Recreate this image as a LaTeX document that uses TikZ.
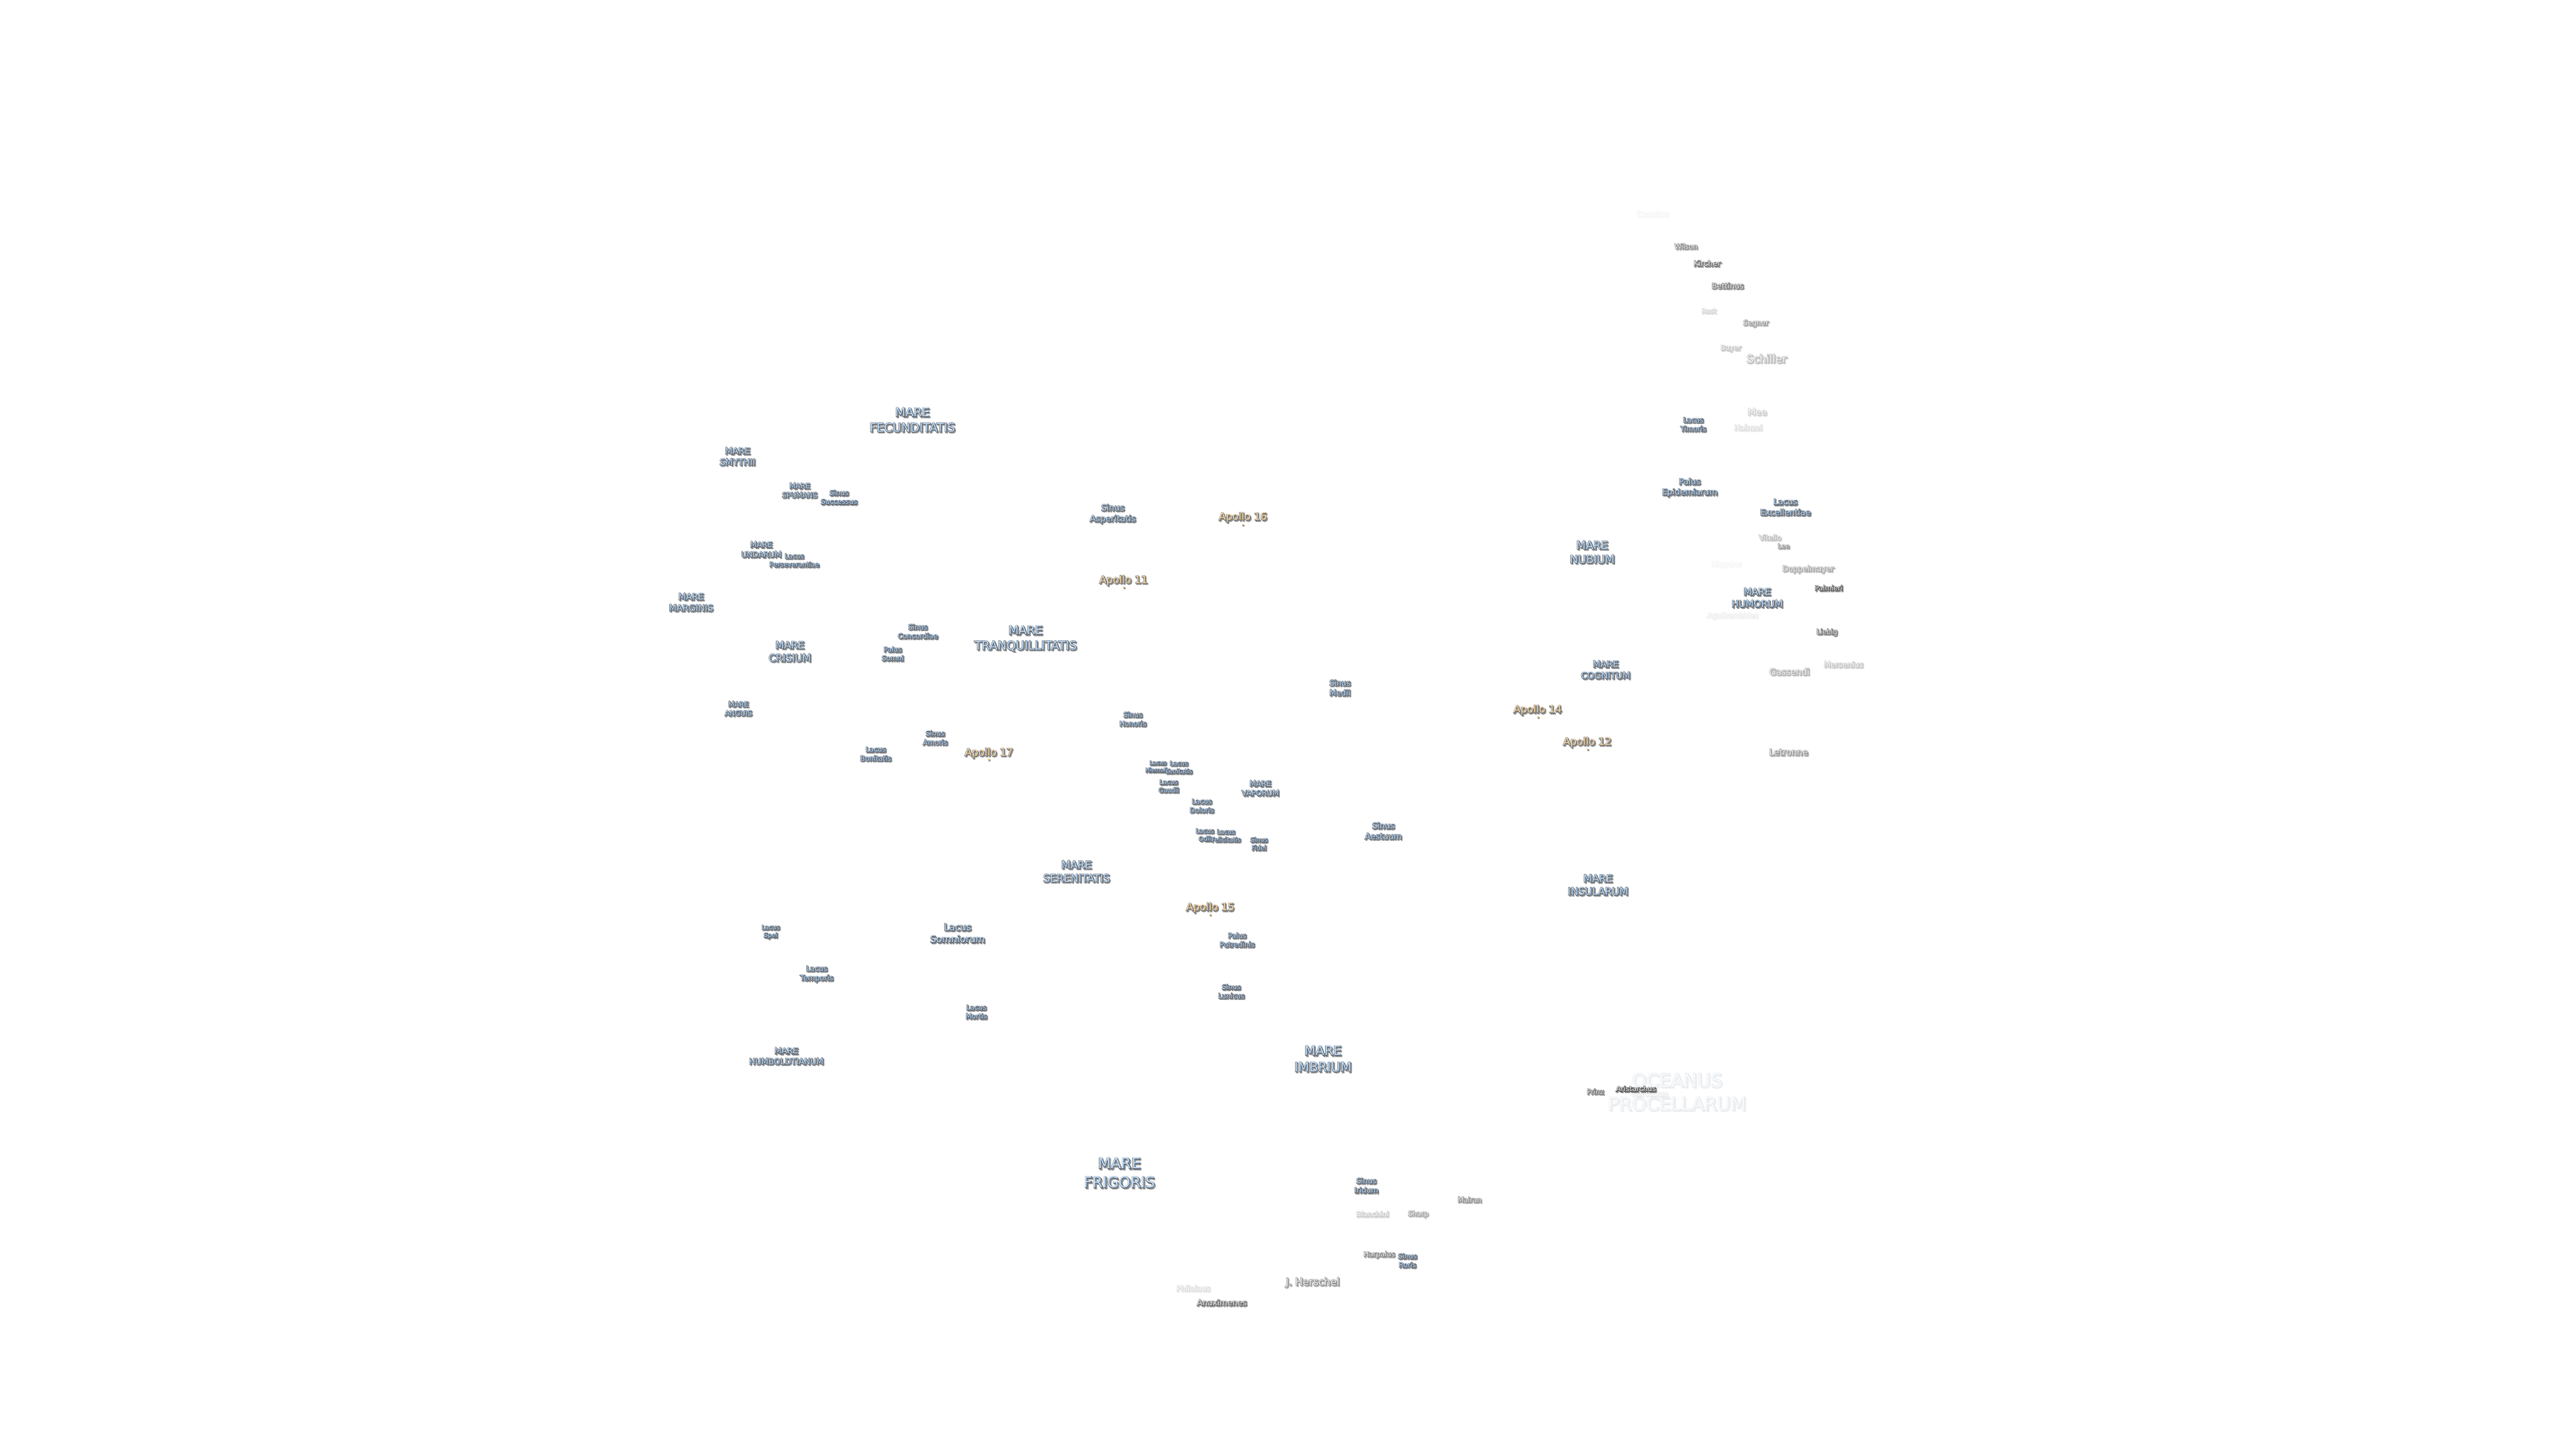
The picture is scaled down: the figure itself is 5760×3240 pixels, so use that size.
\documentclass[tikz,border=0pt]{standalone}
\usepackage{fontspec}
\setmainfont{DejaVu Sans}
\usetikzlibrary{shapes.geometric}
\definecolor{marefill}{HTML}{C4DEF6}
\definecolor{mareline}{HTML}{566272}
\definecolor{craterfill}{HTML}{F2F2F2}
\definecolor{craterline}{HTML}{505050}
\definecolor{apollofill}{HTML}{FBDFB0}
\definecolor{apolloline}{HTML}{76716A}
\definecolor{shadowgrey}{HTML}{8C8C8C}
\definecolor{dotfill}{HTML}{E8B060}
\newcommand\strk[2]{\special{pdf:code 1 Tr #1 w}#2\special{pdf:code 0 Tr}}
\tikzset{lbl/.style={inner sep=0pt,align=center,anchor=center}}
\newcommand\lfont[1]{\fontsize{\fpeval{#1*1.03}}{\fpeval{#1*1.03*1.27}}\selectfont}
% fill colour, line colour, name, x, y, size, opacity, text
\newcommand\lab[8]{%
\begin{scope}[transparency group,opacity=#7]
\node[lbl,text=shadowgrey,xshift=2.4pt,yshift=-2.4pt,font=\lfont{#6}] (#3s) at (#4,#5) {\strk{2.4}{#8}};
\node[lbl,text=#2,font=\lfont{#6}] (#3o) at (#4,#5) {\strk{2}{#8}};
\node[lbl,text=#1,font=\lfont{#6}] (#3) at (#4,#5) {#8};
\end{scope}}
\newcommand\mare[5]{\lab{marefill}{mareline}{#1}{#2}{#3}{#4}{1}{#5}}
\newcommand\crater[6]{\lab{craterfill}{craterline}{#1}{#2}{#3}{#4}{#5}{#6}}
\newcommand\apollo[6]{\node[circle,fill=shadowgrey,inner sep=0pt,minimum size=5pt] (#1ds) at (#5+1.5,#6+1.5) {};
\node[circle,fill=dotfill,inner sep=0pt,minimum size=4.5pt] (#1d) at (#5,#6) {};
\lab{apollofill}{apolloline}{#1}{#2}{#3}{22.3}{1}{#4}}
\begin{document}
\begin{tikzpicture}[x=1pt,y=-1pt]
\useasboundingbox (0,0) rectangle (5760,3240);
\fill[white] (0,0) rectangle (5760,3240);
\lab{marefill}{mareline}{oceanus}{3750}{2442}{40}{0.14}{OCEANUS\\PROCELLARUM}
\crater{herodotus}{3689}{2446}{15}{0.1}{Herodotus}
\crater{aristarchus}{3658}{2435}{15.4}{1}{Aristarchus}
\crater{prinz}{3567}{2441}{15}{0.85}{Prinz}
\mare{fecunditatis}{2040}{939}{26}{MARE\\FECUNDITATIS}
\mare{smythii}{1649}{1021}{19}{MARE\\SMYTHII}
\mare{spumans}{1788}{1097}{15.5}{MARE\\SPUMANS}
\mare{successus}{1876}{1112}{15.2}{Sinus\\Successus}
\mare{undarum}{1702}{1229}{16.7}{MARE\\UNDARUM}
\mare{perseverantiae}{1776}{1253}{14.3}{Lacus\\Perseverantiae}
\mare{marginis}{1545}{1347}{19.2}{MARE\\MARGINIS}
\mare{concordiae}{2052}{1412}{15.4}{Sinus\\Concordiae}
\mare{somni}{1996}{1462}{15}{Palus\\Somni}
\mare{tranquillitatis}{2293}{1428}{25.8}{MARE\\TRANQUILLITATIS}
\mare{crisium}{1766}{1457}{21.8}{MARE\\CRISIUM}
\mare{anguis}{1651}{1585}{15.2}{MARE\\ANGUIS}
\mare{bonitatis}{1958}{1686}{15.2}{Lacus\\Bonitatis}
\mare{amoris}{2091}{1650}{15.2}{Sinus\\Amoris}
\mare{spei}{1723}{2084}{13.6}{Lacus\\Spei}
\mare{somniorum}{2141}{2087}{20.6}{Lacus\\Somniorum}
\mare{temporis}{1826}{2178}{16}{Lacus\\Temporis}
\mare{mortis}{2183}{2263}{15}{Lacus\\Mortis}
\mare{humboldtianum}{1758}{2362}{17.8}{MARE\\HUMBOLDTIANUM}
\mare{asperitatis}{2488}{1149}{18.6}{Sinus\\Asperitatis}
\mare{honoris}{2533}{1608}{15.2}{Sinus\\Honoris}
\mare{hiemalis}{2589}{1714}{12.5}{Lacus\\Hiemalis}
\mare{lenitatis}{2636}{1716}{13.5}{Lacus\\Lenitatis}
\mare{gaudii}{2613}{1758}{13.7}{Lacus\\Gaudii}
\mare{doloris}{2687}{1802}{15}{Lacus\\Doloris}
\mare{vaporum}{2818}{1763}{16.2}{MARE\\VAPORUM}
\mare{odii}{2694}{1867}{13.6}{Lacus\\Odii}
\mare{felicitatis}{2741}{1869}{13.4}{Lacus\\Felicitatis}
\mare{fidei}{2815}{1887}{13.7}{Sinus\\Fidei}
\mare{medii}{2996}{1538}{17}{Sinus\\Medii}
\mare{aestuum}{3093}{1858}{18}{Sinus\\Aestuum}
\mare{nubium}{3560}{1235}{24}{MARE\\NUBIUM}
\mare{cognitum}{3590}{1498}{19.4}{MARE\\COGNITUM}
\mare{insularum}{3573}{1979}{22}{MARE\\INSULARUM}
\mare{humorum}{3929}{1337}{20.5}{MARE\\HUMORUM}
\mare{epidemiarum}{3778}{1090}{18}{Palus\\Epidemiarum}
\mare{excellentiae}{3992}{1134}{18}{Lacus\\Excellentiae}
\mare{timoris}{3786}{949}{15.2}{Lacus\\Timoris}
\mare{serenitatis}{2407}{1949}{22.9}{MARE\\SERENITATIS}
\mare{putredinis}{2766}{2102}{15.2}{Palus\\Putredinis}
\mare{lunicus}{2753}{2217}{15}{Sinus\\Lunicus}
\mare{imbrium}{2958}{2368}{28}{MARE\\IMBRIUM}
\mare{frigoris}{2503}{2623}{32.4}{MARE\\FRIGORIS}
\mare{iridum}{3055}{2651}{16}{Sinus\\Iridum}
\mare{roris}{3147}{2819}{15}{Sinus\\Roris}
\crater{hippalus}{3860}{1262}{15}{0.05}{Hippalus}
\crater{agatharchides}{3874}{1377}{15.3}{0.1}{Agatharchides}
\crater{vitello}{3958}{1202}{15.3}{0.4}{Vitello}
\crater{lee}{3988}{1221}{14}{0.65}{Lee}
\crater{doppelmayer}{4043}{1273}{16.5}{0.55}{Doppelmayer}
\crater{palmieri}{4089}{1315}{15}{1}{Palmieri}
\crater{liebig}{4085}{1414}{15}{0.85}{Liebig}
\crater{gassendi}{4001}{1502}{19}{0.5}{Gassendi}
\crater{mersenius}{4122}{1486}{16.7}{0.35}{Mersenius}
\crater{letronne}{3999}{1682}{19}{0.65}{Letronne}
\crater{casatus}{3695}{478}{17.5}{0.05}{Casatus}
\crater{wilson}{3770}{551}{15}{0.7}{Wilson}
\crater{kircher}{3817}{589}{16.6}{0.85}{Kircher}
\crater{bettinus}{3863}{639}{16.6}{0.8}{Bettinus}
\crater{rost}{3821}{695}{14.4}{0.25}{Rost}
\crater{segner}{3926}{723}{15.5}{0.6}{Segner}
\crater{bayer}{3870}{779}{15}{0.35}{Bayer}
\crater{schiller}{3950}{802}{23.6}{0.45}{Schiller}
\crater{mee}{3929}{921}{19.6}{0.3}{Mee}
\crater{hainzel}{3909}{956}{16.5}{0.2}{Hainzel}
\crater{mairan}{3286}{2683}{15}{0.7}{Mairan}
\crater{blanchini}{3069}{2715}{15.3}{0.3}{Blanchini}
\crater{sharp}{3171}{2715}{15}{0.55}{Sharp}
\crater{harpalus}{3084}{2806}{15.2}{0.75}{Harpalus}
\crater{jherschel}{2935}{2868}{22}{0.7}{J. Herschel}
\crater{philolaus}{2668}{2881}{16.6}{0.2}{Philolaus}
\crater{anaximenes}{2732}{2913}{17.5}{0.9}{Anaximenes}
\apollo{apxi}{2512}{1298}{Apollo 11}{2513}{1314}
\apollo{apxii}{3549}{1660}{Apollo 12}{3550}{1676}
\apollo{apxiv}{3438}{1588}{Apollo 14}{3439}{1604}
\apollo{apxv}{2706}{2030}{Apollo 15}{2706}{2046}
\apollo{apxvi}{2779}{1157}{Apollo 16}{2779}{1174}
\apollo{apxvii}{2211}{1684}{Apollo 17}{2211}{1699}
\end{tikzpicture}
\end{document}
